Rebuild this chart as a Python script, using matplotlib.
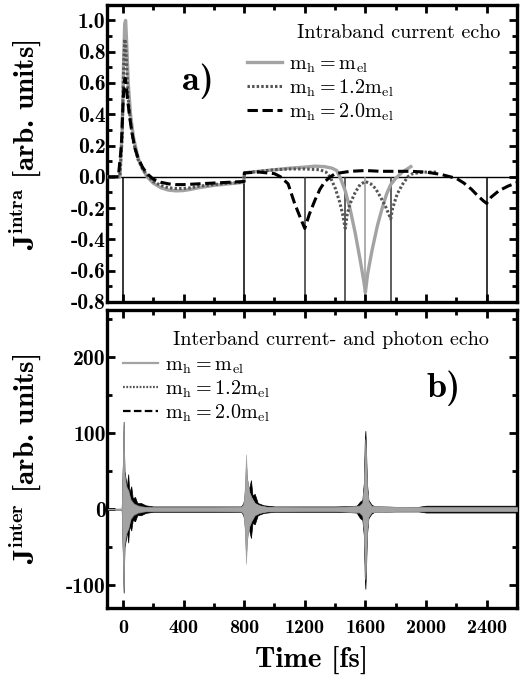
import matplotlib
matplotlib.use("Agg")
import matplotlib.pyplot as plt
from matplotlib.lines import Line2D
from matplotlib import ticker
from matplotlib.font_manager import FontProperties

plt.rcParams["mathtext.fontset"] = "cm"
plt.rcParams["axes.unicode_minus"] = False
plt.rcParams["axes.formatter.use_mathtext"] = True

# -----------------------------
# Panel a) intraband current (read from figure)
# -----------------------------
t_el = [-100, -20, -5, 5, 12, 18, 25, 35, 50, 70, 100, 130, 160, 200, 250, 300, 350, 400,
        450, 500, 600, 700, 798,
        802, 900, 1000, 1100, 1200, 1267, 1330, 1380, 1411, 1440, 1467, 1500, 1533, 1567,
        1590, 1600, 1615, 1644, 1680, 1711, 1740, 1767, 1800, 1844, 1900]
j_el = [0, 0, 0.3, 0.75, 0.98, 1.0, 0.85, 0.6, 0.4, 0.25, 0.12, 0.05, 0.0, -0.04, -0.07,
        -0.085, -0.09, -0.088, -0.08, -0.07, -0.055, -0.045, -0.035,
        0.025, 0.035, 0.045, 0.055, 0.062, 0.068, 0.065, 0.055, 0.04, -0.02, -0.09, -0.21,
        -0.36, -0.54, -0.67, -0.74, -0.62, -0.47, -0.31, -0.2, -0.11, -0.05, -0.01, 0.03, 0.065]

t_12 = [-100, -20, -5, 5, 12, 18, 25, 35, 50, 70, 100, 130, 160, 200, 250, 300, 350, 400,
        450, 500, 600, 700, 798,
        802, 900, 1000, 1100, 1200, 1300, 1340, 1367, 1400, 1430, 1450, 1467, 1480, 1500,
        1533, 1565, 1600, 1635, 1667, 1700, 1733, 1755, 1767, 1780, 1810, 1844, 1880, 1911,
        1980, 2080]
j_12 = [0, 0, 0.25, 0.7, 0.88, 0.85, 0.7, 0.5, 0.35, 0.22, 0.11, 0.05, 0.01, -0.03, -0.055,
        -0.07, -0.075, -0.075, -0.07, -0.06, -0.05, -0.04, -0.035,
        0.025, 0.035, 0.045, 0.05, 0.05, 0.045, 0.03, 0.0, -0.07, -0.16, -0.24, -0.33, -0.24,
        -0.17, -0.1, -0.05, -0.03, -0.045, -0.075, -0.13, -0.19, -0.24, -0.27, -0.2, -0.11,
        -0.05, 0.0, 0.02, 0.03, 0.03]

t_20 = [-100, -30, -10, 0, 8, 15, 22, 30, 45, 60, 80, 100, 130, 160, 200, 250, 300, 350,
        400, 500, 600, 700, 798,
        802, 900, 1000, 1040, 1090, 1133, 1170, 1200, 1230, 1267, 1300, 1333, 1370, 1400,
        1500, 1600, 1700, 1800, 1900, 2000, 2100, 2200, 2250, 2300, 2340, 2380, 2400, 2430,
        2480, 2540, 2620]
j_20 = [0, 0, 0.2, 0.45, 0.6, 0.63, 0.58, 0.5, 0.38, 0.28, 0.18, 0.12, 0.06, 0.02, -0.015,
        -0.035, -0.045, -0.05, -0.05, -0.045, -0.04, -0.035, -0.03,
        0.025, 0.03, 0.02, 0.0, -0.045, -0.17, -0.26, -0.33, -0.24, -0.15, -0.08, -0.03, 0.0,
        0.02, 0.035, 0.04, 0.035, 0.035, 0.035, 0.03, 0.015, -0.01, -0.04, -0.08, -0.12,
        -0.155, -0.17, -0.13, -0.09, -0.06, -0.03]

echo_t = [0, 800, 1200, 1467, 1600, 1767, 2400]
echo_c = ["black", "black", "#333333", "#333333", "#999999", "#333333", "black"]

# -----------------------------
# Panel b) interband current, oscillation envelopes (read from figure)
# -----------------------------
tb_20 = [-100, -8, 0, 5, 10, 18, 25, 35, 42, 55, 65, 80, 95, 120, 150, 200, 400, 600, 780,
         795, 805, 815, 830, 845, 855, 870, 890, 930, 1000, 1200, 1400, 1540, 1565, 1580,
         1590, 1596, 1600, 1604, 1610, 1620, 1640, 1660, 1800, 1950, 2000, 2200, 2400, 2600]
up_20 = [0.5, 0.5, 60, 115, 50, 40, 28, 46, 22, 30, 14, 16, 8, 8, 5, 3.5, 3.5, 3.5, 3.5,
         8, 18, 45, 25, 38, 18, 20, 8, 5, 3.5, 3.5, 3.5, 4, 10, 12,
         35, 90, 103, 80, 35, 12, 6, 3.5, 3, 3, 4.5, 4.5, 4.5, 4.5]
lo_20 = [-0.5, -0.5, -60, -110, -50, -42, -28, -44, -22, -28, -14, -16, -8, -8, -5, -3.5,
         -3.5, -3.5, -3.5, -8, -18, -40, -25, -38, -18, -20, -8, -5, -3.5, -3.5, -3.5, -4,
         -12, -14, -35, -90, -105, -80, -35, -12, -6, -3.5, -3, -3, -4.5, -4.5, -4.5, -4.5]

tb_12 = [-100, -8, 0, 5, 10, 20, 35, 50, 70, 100, 150, 200, 400, 600, 780, 795, 805, 812,
         820, 835, 850, 870, 900, 950, 1200, 1400, 1560, 1580, 1590, 1596, 1600, 1604, 1610,
         1620, 1640, 1800, 2000, 2200, 2400, 2600]
up_12 = [0.5, 0.5, 65, 110, 50, 32, 25, 14, 8, 5, 3, 2.8, 2.8, 2.8, 3, 7, 25, 62,
         35, 20, 14, 8, 5, 3, 2.8, 2.8, 5, 9, 30, 72, 93, 72, 30, 10, 4, 3, 3, 3, 3, 3]
lo_12 = [-0.5, -0.5, -65, -105, -50, -34, -26, -14, -8, -5, -3, -2.8, -2.8, -2.8, -3, -7,
         -25, -62, -35, -20, -14, -8, -5, -3, -2.8, -2.8, -5, -9, -30, -72, -93, -72, -30,
         -10, -4, -3, -3, -3, -3, -3]

tb_el = [-100, -8, 0, 5, 10, 20, 35, 50, 70, 100, 150, 200, 400, 600, 780, 795, 805, 812,
         820, 835, 850, 870, 900, 950, 1200, 1400, 1560, 1580, 1590, 1596, 1600, 1604, 1610,
         1620, 1640, 1800, 2000, 2200, 2400, 2600]
up_el = [0.5, 0.5, 70, 115, 45, 30, 24, 12, 7, 4, 2.5, 2.5, 2.5, 2.5, 3, 6, 30, 72,
         40, 22, 15, 8, 5, 3, 2.5, 2.5, 4, 8, 30, 70, 92, 70, 30, 10, 4, 3, 2.5, 2.5, 2.5, 2.5]
lo_el = [-0.5, -0.5, -70, -105, -45, -32, -25, -12, -7, -4, -2.5, -2.5, -2.5, -2.5, -3, -6,
         -30, -72, -40, -22, -15, -8, -5, -3, -2.5, -2.5, -4, -8, -30, -70, -92, -70, -30,
         -10, -4, -3, -2.5, -2.5, -2.5, -2.5]

labels = [r"$\mathrm{m_h = m_{el}}$", r"$\mathrm{m_h = 1.2m_{el}}$", r"$\mathrm{m_h = 2.0m_{el}}$"]

GRAY = "#a3a3a3"
DOT = "#555555"
styles = [dict(color=GRAY, lw=2.4, ls="-"),
          dict(color=DOT, lw=2.2, ls=(0, (0.8, 0.7))),
          dict(color="black", lw=2.2, ls=(0, (3.4, 1.5)))]

fig = plt.figure(figsize=(5.31, 6.83), dpi=100)
ax1 = fig.add_axes([0.2015, 0.558, 0.772, 0.435])
ax2 = fig.add_axes([0.2015, 0.110, 0.772, 0.436])

# -----------------------------
# Panel a
# -----------------------------
ax1.axhline(0, color="black", lw=1.0, zorder=1)
ax1.vlines(echo_t, -0.8, 0, colors=echo_c, lw=1.1, zorder=1)
ax1.plot(t_el, j_el, zorder=3, **styles[0])
ax1.plot(t_12, j_12, zorder=4, **styles[1])
ax1.plot(t_20, j_20, zorder=5, **styles[2])
ax1.set_ylim(-0.8, 1.1)
ax1.yaxis.set_major_locator(ticker.MultipleLocator(0.2))
ax1.yaxis.set_minor_locator(ticker.MultipleLocator(0.1))
ax1.yaxis.set_major_formatter(ticker.FormatStrFormatter("%.1f"))
ax1.set_ylabel(r"$\mathbf{J}^{\mathbf{intra}}$ [arb. units]", family="cmb10", size=21)
ax1.yaxis.set_label_coords(-0.155, 0.53)
ax1.text(0.183, 0.714, "a)", transform=ax1.transAxes, family="cmb10", size=26)

# -----------------------------
# Panel b
# -----------------------------
ax2.fill_between(tb_20, lo_20, up_20, color="black", lw=0.5, zorder=2)
ax2.fill_between(tb_12, lo_12, up_12, color=DOT, lw=0.4, zorder=3)
ax2.fill_between(tb_el, lo_el, up_el, color=GRAY, lw=0.4, zorder=4)
ax2.set_ylim(-130, 262)
ax2.yaxis.set_major_locator(ticker.MultipleLocator(100))
ax2.yaxis.set_minor_locator(ticker.MultipleLocator(50))
ax2.yaxis.set_major_formatter(ticker.FormatStrFormatter("%d"))
ax2.set_ylabel(r"$\mathbf{J}^{\mathbf{inter}}$ [arb. units]", family="cmb10", size=21)
ax2.yaxis.set_label_coords(-0.155, 0.5)
ax2.set_xlabel("Time [fs]", family="cmb10", size=21, labelpad=6)
ax2.text(0.78, 0.708, "b)", transform=ax2.transAxes, family="cmb10", size=26)

for ax in (ax1, ax2):
    ax.set_xlim(-105, 2600)
    ax.xaxis.set_major_locator(ticker.MultipleLocator(400))
    ax.xaxis.set_minor_locator(ticker.MultipleLocator(200))
    ax.xaxis.set_major_formatter(ticker.FormatStrFormatter("%d"))
    ax.tick_params(which="both", direction="in", top=True, right=True, width=2.0)
    ax.tick_params(which="major", length=6)
    ax.tick_params(which="minor", length=3.5)
    ax.tick_params(axis="y", pad=1)
    ax.tick_params(axis="x", pad=8)
    for lab in ax.get_yticklabels():
        lab.set_fontproperties(FontProperties(family="cmb10", size=15.5))
    for lab in ax.get_xticklabels():
        lab.set_fontproperties(FontProperties(family="cmb10", size=14.5))
    for sp in ax.spines.values():
        sp.set_linewidth(2.4)
ax1.tick_params(labelbottom=False)

# -----------------------------
# Legends (heading as separate text, aligned with the label column)
# -----------------------------
def add_legend(ax, heading, hx, hy, anchor):
    ax.text(hx, hy, heading, transform=ax.transAxes, family="cmr10", size=14.5, va="center")
    handles = [Line2D([], [], **st) for st in styles]
    leg = ax.legend(handles, labels, loc="upper left", bbox_to_anchor=anchor,
                    frameon=False, prop=dict(family="cmr10", size=14.5),
                    handlelength=1.75, handletextpad=0.35, labelspacing=0.12,
                    borderpad=0, borderaxespad=0)
    return leg

add_legend(ax1, "Intraband current echo", 0.463, 0.906, (0.341, 0.83))
leg2 = add_legend(ax2, "Interband current- and photon echo", 0.161, 0.899, (0.039, 0.845))
for h in leg2.legend_handles:
    h.set_linewidth(1.6)

fig.savefig("out.png", dpi=100)
